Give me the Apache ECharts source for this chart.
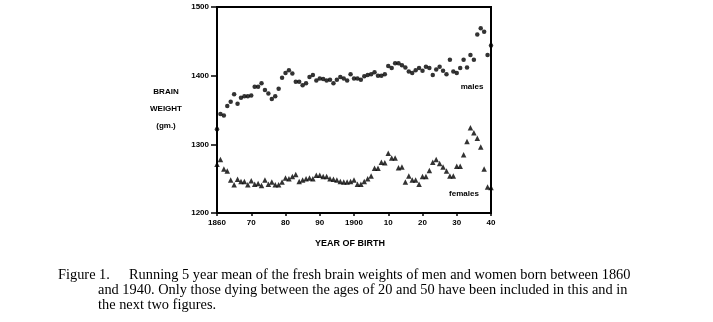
<!DOCTYPE html>
<html>
<head>
<meta charset="utf-8">
<script src="https://cdn.jsdelivr.net/npm/echarts@6/dist/echarts.min.js"></script>
<style>
html,body{margin:0;padding:0;background:#fff;}
#chart{width:713px;height:322px;}
</style>
</head>
<body>
<div id="chart"></div>
<script>
const years = [1860,1861,1862,1863,1864,1865,1866,1867,1868,1869,
1870,1871,1872,1873,1874,1875,1876,1877,1878,1879,
1880,1881,1882,1883,1884,1885,1886,1887,1888,1889,
1890,1891,1892,1893,1894,1895,1896,1897,1898,1899,
1900,1901,1902,1903,1904,1905,1906,1907,1908,1909,
1910,1911,1912,1913,1914,1915,1916,1917,1918,1919,
1920,1921,1922,1923,1924,1925,1926,1927,1928,1929,
1930,1931,1932,1933,1934,1935,1936,1937,1938,1939,1940];

const males = [1322,1344,1342,1356,1362,1373,1359,1368,1370,1370,
1371,1384,1384,1389,1379,1374,1366,1370,1381,1397,
1404,1408,1403,1391,1391,1386,1389,1398,1401,1393,
1396,1395,1393,1394,1389,1394,1398,1396,1393,1402,
1396,1396,1394,1399,1401,1402,1405,1400,1400,1402,
1414,1411,1418,1418,1415,1412,1406,1404,1408,1411,
1407,1413,1411,1401,1409,1413,1407,1402,1423,1406,
1404,1411,1423,1412,1430,1423,1460,1469,1464,1430,1444];

const females = [1271,1278,1264,1261,1248,1241,1249,1246,1246,1241,
1247,1242,1243,1240,1248,1242,1245,1241,1241,1245,
1251,1250,1253,1256,1246,1248,1250,1251,1250,1255,
1255,1253,1253,1250,1249,1248,1246,1245,1245,1246,
1248,1242,1242,1246,1250,1254,1265,1265,1274,1273,
1287,1280,1280,1266,1267,1245,1254,1248,1248,1242,
1253,1253,1262,1274,1278,1272,1267,1261,1254,1254,
1268,1268,1285,1304,1324,1317,1309,1296,1264,1238,1237];

const xTickLabels = {1860:'1860',1870:'70',1880:'80',1890:'90',1900:'1900',1910:'10',1920:'20',1930:'30',1940:'40'};
const yTickLabels = {1200:'1200',1300:'1300',1400:'1400',1500:'1500'};

const captionLines = [
  'Running 5 year mean of the fresh brain weights of men and women born between 1860',
  'and 1940. Only those dying between the ages of 20 and 50 have been included in this and in',
  'the next two figures.'
];

const chart = echarts.init(document.getElementById('chart'), null, {renderer:'canvas'});
const sans = '"Liberation Sans", Arial, sans-serif';
const serif = '"Liberation Serif", "Times New Roman", serif';
const capFont = '13px ' + serif;
const capScale = 1.105;

function capText(str, x, y){
  return {type:'text',x:x,y:y,scaleX:capScale,scaleY:1.04,
    style:{text:str,font:capFont,fill:'#000',textAlign:'left',textVerticalAlign:'middle'}};
}

chart.setOption({
  animation:false,
  backgroundColor:'#fff',
  grid:{left:217,right:222,top:7,bottom:109,show:true,borderColor:'#000',borderWidth:2,backgroundColor:'transparent'},
  xAxis:{
    type:'value',min:1860,max:1940,interval:10,
    axisLine:{show:true,onZero:false,lineStyle:{color:'#000',width:2}},
    axisTick:{show:true,length:3,lineStyle:{color:'#000',width:1.5}},
    splitLine:{show:false},
    axisLabel:{margin:6,color:'#000',fontFamily:sans,fontWeight:'bold',fontSize:8,
      formatter:v=>xTickLabels[v]||''}
  },
  yAxis:{
    type:'value',min:1200,max:1500,interval:100,
    axisLine:{show:true,onZero:false,lineStyle:{color:'#000',width:2}},
    axisTick:{show:true,length:6,lineStyle:{color:'#000',width:1.5}},
    splitLine:{show:false},
    axisLabel:{margin:8,color:'#000',fontFamily:sans,fontWeight:'bold',fontSize:8,
      formatter:v=>yTickLabels[v]||''}
  },
  series:[
    {name:'males',type:'scatter',symbol:'circle',symbolSize:4.5,
     itemStyle:{color:'#000'},data:years.map((y,i)=>[y,males[i]])},
    {name:'females',type:'scatter',symbol:'triangle',symbolSize:5.5,
     itemStyle:{color:'#000'},data:years.map((y,i)=>[y,females[i]])}
  ],
  graphic:[
    {type:'text',x:166,y:92,style:{text:'BRAIN',font:'bold 8px '+sans,fill:'#000',textAlign:'center',textVerticalAlign:'middle'}},
    {type:'text',x:166,y:109,style:{text:'WEIGHT',font:'bold 8px '+sans,fill:'#000',textAlign:'center',textVerticalAlign:'middle'}},
    {type:'text',x:166,y:126,style:{text:'(gm.)',font:'bold 8px '+sans,fill:'#000',textAlign:'center',textVerticalAlign:'middle'}},
    {type:'text',x:472,y:87,style:{text:'males',font:'bold 8px '+sans,fill:'#000',textAlign:'center',textVerticalAlign:'middle'}},
    {type:'text',x:464,y:194,style:{text:'females',font:'bold 8px '+sans,fill:'#000',textAlign:'center',textVerticalAlign:'middle'}},
    {type:'text',x:350,y:244,style:{text:'YEAR OF BIRTH',font:'bold 9px '+sans,fill:'#000',textAlign:'center',textVerticalAlign:'middle'}},
    capText('Figure 1.', 58, 275),
    capText(captionLines[0], 129, 275),
    capText(captionLines[1], 98, 290),
    capText(captionLines[2], 98, 305)
  ]
});
</script>
</body>
</html>
